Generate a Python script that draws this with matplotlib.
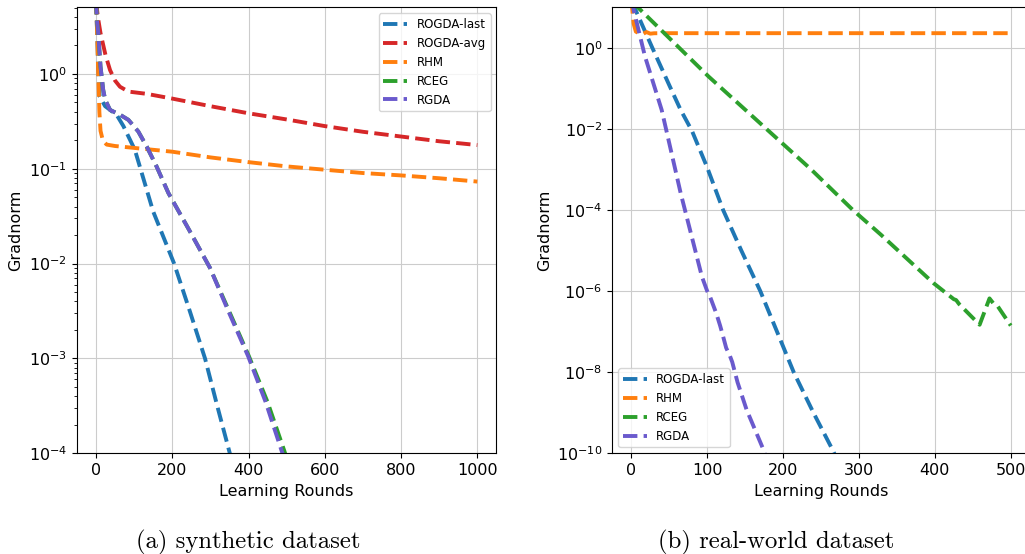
import numpy as np
import matplotlib
matplotlib.use('Agg')
import matplotlib.pyplot as plt

# ---- (a) synthetic dataset: (round, log10 gradnorm) ----
syn_last_t = [0, 3, 6, 10, 24, 54, 72, 102, 150, 205, 246, 286, 318, 351, 380]
syn_last_y = [0.78, 0.45, 0.05, -0.24, -0.34, -0.43, -0.55, -0.80, -1.45, -2.0, -2.5, -3.0, -3.5, -4.0, -4.5]

syn_avg_t = [0, 5, 12, 25, 37, 50, 63, 85, 133, 200, 300, 400, 500, 600, 700, 800, 900, 1000]
syn_avg_y = [0.78, 0.60, 0.43, 0.20, 0.04, -0.07, -0.135, -0.186, -0.21, -0.26, -0.34, -0.415, -0.48, -0.55, -0.61, -0.66, -0.71, -0.75]

syn_rhm_t = [0, 3, 6, 9, 12, 18, 28, 50, 100, 200, 300, 400, 500, 600, 700, 800, 900, 1000]
syn_rhm_y = [0.78, 0.45, 0.0, -0.40, -0.60, -0.70, -0.745, -0.76, -0.78, -0.82, -0.88, -0.93, -0.975, -1.01, -1.045, -1.07, -1.10, -1.135]

syn_rceg_t = [0, 3, 6, 12, 19, 24, 37, 63, 85, 111, 133, 159, 190, 245, 299, 349, 401, 450, 494, 520]
syn_rceg_y = [0.78, 0.55, 0.43, 0.077, -0.168, -0.27, -0.38, -0.43, -0.484, -0.607, -0.765, -0.976, -1.256, -1.65, -2.045, -2.5, -2.976, -3.46, -3.976, -4.3]

syn_rgda_t = [0, 3, 6, 12, 19, 24, 37, 63, 85, 111, 133, 159, 190, 245, 299, 347, 399, 445, 487, 520]
syn_rgda_y = [0.78, 0.55, 0.43, 0.077, -0.168, -0.27, -0.38, -0.43, -0.484, -0.607, -0.765, -0.976, -1.256, -1.65, -2.045, -2.5, -2.976, -3.46, -3.976, -4.35]

# ---- (b) real-world dataset ----
real_last_t = [0, 7.5, 27, 50, 65, 80, 100, 121, 145, 170, 192, 214, 240, 264, 275]
real_last_y = [1.15, 0.855, 0.03, -0.92, -1.53, -2.05, -2.95, -4.0, -5.0, -6.0, -7.0, -8.0, -9.0, -9.87, -10.3]

real_rhm_t = [0, 3, 6, 10, 15, 20, 25, 30, 40, 100, 200, 300, 400, 500]
real_rhm_y = [1.2, 0.6, 0.40, 0.36, 0.34, 0.39, 0.35, 0.36, 0.362, 0.362, 0.362, 0.362, 0.362, 0.362]

real_rceg_t = [0, 7.5, 102, 237, 292, 329, 398, 425, 428, 432, 459, 472, 477, 482, 500]
real_rceg_y = [1.12, 1.02, -0.71, -3.0, -4.0, -4.61, -5.80, -6.2, -6.22, -6.32, -6.83, -6.18, -6.30, -6.35, -6.85]

real_rgda_t = [0, 3, 18, 40, 65, 93, 100, 104, 112, 117, 120, 125, 130, 133, 140, 152, 175, 180]
real_rgda_y = [1.3, 0.94, -0.21, -1.53, -3.58, -5.64, -6.0, -6.15, -6.55, -6.85, -7.05, -7.4, -7.6, -7.75, -8.25, -8.93, -9.95, -10.3]

blue, red, orange, green, purple = '#1f77b4', '#d62728', '#ff7f0e', '#2ca02c', '#6a5acd'
lw = 2.8

plt.rcParams['font.size'] = 11.5
fig = plt.figure(figsize=(10.25, 5.54), dpi=100)
ax1 = fig.add_axes([0.075, 0.1818, 0.4093, 0.805])
ax2 = fig.add_axes([0.5974, 0.1818, 0.4072, 0.805])

def p(v):
    return 10 ** np.array(v)

ax1.plot(syn_last_t, p(syn_last_y), '--', color=blue, lw=lw, label='ROGDA-last')
ax1.plot(syn_avg_t, p(syn_avg_y), '--', color=red, lw=lw, label='ROGDA-avg')
ax1.plot(syn_rhm_t, p(syn_rhm_y), '--', color=orange, lw=lw, label='RHM')
ax1.plot(syn_rceg_t, p(syn_rceg_y), '--', color=green, lw=lw, label='RCEG')
ax1.plot(syn_rgda_t, p(syn_rgda_y), '--', color=purple, lw=lw, label='RGDA')
ax1.set_yscale('log')
ax1.set_xlim(-50, 1050)
ax1.set_ylim(1e-4, 5.04)
ax1.set_xlabel('Learning Rounds')
ax1.set_ylabel('Gradnorm')
ax1.grid(True, color='#cccccc')
ax1.legend(loc='upper right', fontsize=8.5)

ax2.plot(real_last_t, p(real_last_y), '--', color=blue, lw=lw, label='ROGDA-last')
ax2.plot(real_rhm_t, p(real_rhm_y), '--', color=orange, lw=lw, label='RHM')
ax2.plot(real_rceg_t, p(real_rceg_y), '--', color=green, lw=lw, label='RCEG')
ax2.plot(real_rgda_t, p(real_rgda_y), '--', color=purple, lw=lw, label='RGDA')
ax2.set_yscale('log')
ax2.set_xlim(-25, 525)
ax2.set_ylim(1e-10, 10)
ax2.set_xlabel('Learning Rounds')
ax2.set_ylabel('Gradnorm')
ax2.grid(True, color='#cccccc')
ax2.legend(loc='lower left', fontsize=8.5)

fig.text(0.2425, 0.02, '(a) synthetic dataset', family='cmr10', fontsize=17.8, ha='center', va='center')
fig.text(0.7575, 0.02, '(b) real-world dataset', family='cmr10', fontsize=17.8, ha='center', va='center')

fig.savefig('out.png', dpi=100)
